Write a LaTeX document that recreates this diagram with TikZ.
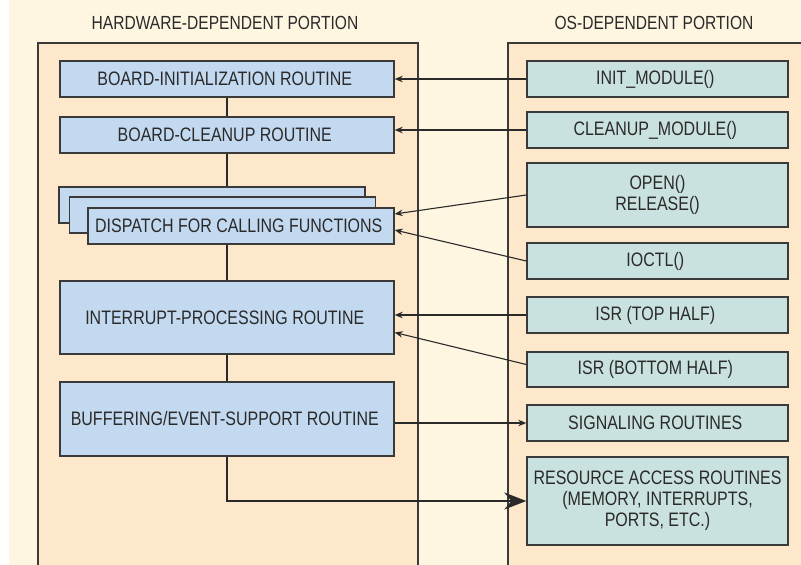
\documentclass[tikz,border=0pt]{standalone}
\usepackage{fontspec}
\setmainfont{Liberation Sans}[FakeStretch=0.82]
\usetikzlibrary{arrows.meta, calc, positioning}
\definecolor{paper}{HTML}{FEF6E0}
\definecolor{panel}{HTML}{FDE8CB}
\definecolor{hwblue}{HTML}{C3D9F0}
\definecolor{osteal}{HTML}{CAE2DF}
\definecolor{ink}{HTML}{2A2A2A}
\definecolor{boxline}{HTML}{3A3A3A}
\tikzset{
    routine/.style={
           rectangle,
           draw=boxline, line width=1.4pt,
           fill=hwblue,
           text=ink,
           font=\fontsize{19.5}{21}\selectfont,
           minimum width=334pt,
           minimum height=36pt,
           inner sep=2pt,
           align=center,
           },
    dispatch/.style={routine, minimum width=306pt},
    oscall/.style={routine, fill=osteal, minimum width=261pt},
    title/.style={text=ink, font=\fontsize{19}{21}\selectfont},
    call/.style={->, draw=ink, line width=1.1pt},
    trunk/.style={draw=ink, line width=2.4pt},
}

\begin{document}
\begin{tikzpicture}[x=1pt, y=1pt, >={Stealth[length=8pt, width=6.5pt]}, node distance=56pt]

 % backdrop and the two portions
 \fill[white] (0,0) rectangle (801,-565);
 \fill[paper] (9,0) rectangle (801,-565);
 \useasboundingbox (0,0) rectangle (801,-565);
 \fill[panel] (38,-43) rectangle (418,-565);
 \draw[boxline, line width=1.3pt] (38,-565) |- (418,-43) -- (418,-565);
 \fill[panel] (508,-43) rectangle (801,-565);
 \draw[boxline, line width=1.3pt] (508,-565) |- (801,-43);

 \node[title] (HW_TITLE) at (225,-23)
 {%
  HARDWARE-DEPENDENT PORTION
 };

 \node[title] (OS_TITLE) at (654,-23)
 {%
  OS-DEPENDENT PORTION
 };

 % hardware side
 \node[routine] (BOARD_INIT) at (227,-79)
 {%
  BOARD-INITIALIZATION ROUTINE
 };

 \node[routine,
  below of=BOARD_INIT] (BOARD_CLEANUP)
 {%
  BOARD-CLEANUP ROUTINE
 };

 \node[dispatch,
  below of=BOARD_CLEANUP,
  xshift=-15pt,
  yshift=-14pt] (DISPATCH_BACK) {};

 \node[dispatch] (DISPATCH_MID) at ([shift={(10.5,-10)}]DISPATCH_BACK) {};

 \node[dispatch] (DISPATCH) at ([shift={(18.5,-11)}]DISPATCH_MID)
 {%
  DISPATCH FOR CALLING FUNCTIONS
 };

 \node[routine,
  below of=DISPATCH,
  xshift=-14pt,
  yshift=-35.5pt,
  minimum height=73pt] (INTERRUPT)
 {%
  INTERRUPT-PROCESSING ROUTINE
 };

 \node[routine,
  below of=INTERRUPT,
  yshift=-45.5pt,
  minimum height=74pt] (BUFFERING)
 {%
  BUFFERING/EVENT-SUPPORT ROUTINE
 };

 % os side
 \node[oscall] (INIT_MODULE) at (657.5,-79)
 {%
  INIT\_MODULE()
 };

 \node[oscall,
  below of=INIT_MODULE,
  yshift=5pt] (CLEANUP_MODULE)
 {%
  CLEANUP\_MODULE()
 };

 \node[oscall,
  below of=CLEANUP_MODULE,
  yshift=-9pt,
  minimum height=64pt] (OPEN_RELEASE)
 {%
  OPEN()\\RELEASE()
 };

 \node[oscall,
  below of=OPEN_RELEASE,
  yshift=-10pt] (IOCTL)
 {%
  IOCTL()
 };

 \node[oscall,
  below of=IOCTL,
  yshift=2pt] (ISR_TOP)
 {%
  ISR (TOP HALF)
 };

 \node[oscall,
  below of=ISR_TOP,
  yshift=1.5pt,
  minimum height=35pt] (ISR_BOTTOM)
 {%
  ISR (BOTTOM HALF)
 };

 \node[oscall,
  below of=ISR_BOTTOM,
  yshift=2.5pt] (SIGNALING)
 {%
  SIGNALING ROUTINES
 };

 \node[oscall,
  below of=SIGNALING,
  yshift=-22pt,
  minimum height=88pt] (RESOURCE)
 {%
  RESOURCE ACCESS ROUTINES\\(MEMORY, INTERRUPTS,\\PORTS, ETC.)
 };

 \path (BOARD_INIT) edge[trunk] (BOARD_CLEANUP);
 \path (BOARD_CLEANUP) edge[trunk] (BOARD_CLEANUP |- DISPATCH_BACK.north);
 \path (DISPATCH.south -| INTERRUPT) edge[trunk] (INTERRUPT);
 \path (INTERRUPT) edge[trunk] (BUFFERING);
 \draw[trunk, -{Stealth[length=22pt, width=17pt]}] (BUFFERING) |- (RESOURCE);

 \path (INIT_MODULE) edge[call] (BOARD_INIT);
 \path (CLEANUP_MODULE.west) edge[call] (CLEANUP_MODULE.west -| BOARD_CLEANUP.east);
 \path (OPEN_RELEASE.west) edge[call] ([yshift=12pt]DISPATCH.east);
 \path (IOCTL.west) edge[call] ([yshift=-4pt]DISPATCH.east);
 \path (ISR_TOP.west) edge[call] (ISR_TOP.west -| INTERRUPT.east);
 \path ([yshift=5pt]ISR_BOTTOM.west) edge[call] ([yshift=-15pt]INTERRUPT.east);
 \path (BUFFERING.east |- SIGNALING.west) edge[call] (SIGNALING);

\end{tikzpicture}
\end{document}
